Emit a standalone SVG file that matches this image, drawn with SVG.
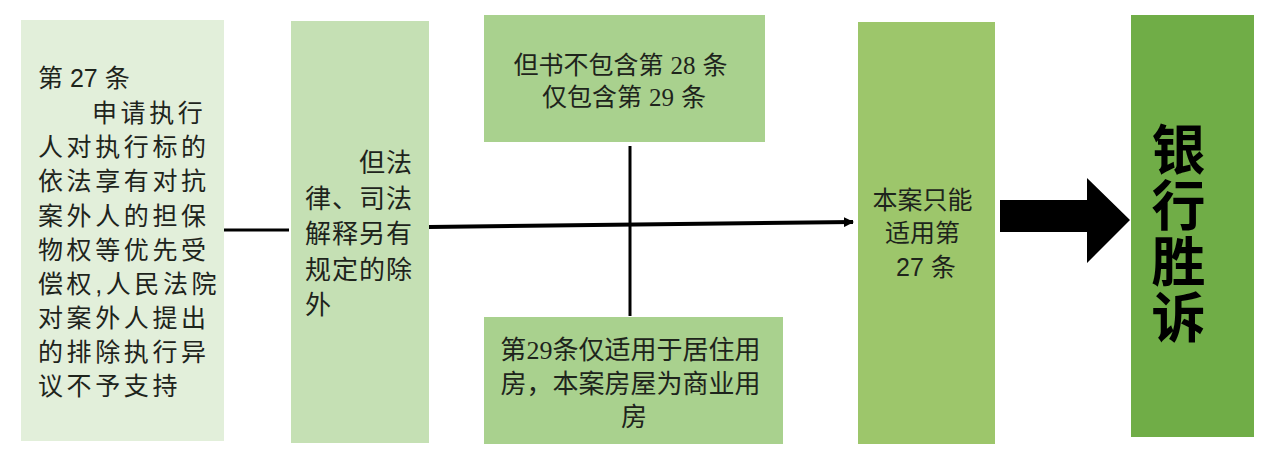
<svg xmlns="http://www.w3.org/2000/svg" width="1280" height="470" viewBox="0 0 1280 470">
<defs>
<style>
.t{font-family:"Liberation Sans","Noto Sans CJK SC",sans-serif;fill:#1e241c;font-size:25px}
.n{font-family:"Liberation Serif","Noto Sans CJK SC",serif}
.c{stroke:#000;stroke-width:3;fill:none}
</style>
<marker id="ah" markerWidth="10" markerHeight="10" refX="9" refY="5" orient="auto" markerUnits="userSpaceOnUse" viewBox="0 0 10 10">
<path d="M0,0 L10,5 L0,10 z" fill="#000"/>
</marker>
</defs>
<rect width="1280" height="470" fill="#fff"/>
<g id="n1">
<rect x="21" y="20" width="203" height="421" fill="#e2efda"/>
<text class="t" style="letter-spacing:3.6px">
<tspan x="38" y="87" style="letter-spacing:0">第 27 条</tspan>
<tspan x="92" y="122">申请执行</tspan>
<tspan x="38" y="156">人对执行标的</tspan>
<tspan x="38" y="190">依法享有对抗</tspan>
<tspan x="38" y="225">案外人的担保</tspan>
<tspan x="38" y="259">物权等优先受</tspan>
<tspan x="38" y="293">偿权,人民法院</tspan>
<tspan x="38" y="327">对案外人提出</tspan>
<tspan x="38" y="361">的排除执行异</tspan>
<tspan x="38" y="395">议不予支持</tspan>
</text>
</g>
<g id="n2">
<rect x="291" y="21" width="138" height="422" fill="#c5e0b4"/>
<text class="t" style="font-size:26px;letter-spacing:1px">
<tspan x="359" y="172">但法</tspan>
<tspan x="305" y="208">律、司法</tspan>
<tspan x="305" y="243">解释另有</tspan>
<tspan x="305" y="279">规定的除</tspan>
<tspan x="305" y="314">外</tspan>
</text>
</g>
<g id="n3">
<rect x="484" y="15" width="281" height="127" fill="#a9d18e"/>
<text class="t" text-anchor="middle">
<tspan x="624" y="74">但书不包含第 <tspan class="n">28</tspan> 条</tspan>
<tspan x="624" y="106">仅包含第 <tspan class="n">29</tspan> 条</tspan>
</text>
</g>
<g id="n4">
<rect x="484" y="317" width="299" height="127" fill="#a9d18e"/>
<text class="t" text-anchor="middle" style="font-size:26px">
<tspan x="634" y="359">第<tspan class="n">29</tspan>条仅适用于居住用</tspan>
<tspan x="634" y="393">房，本案房屋为商业用</tspan>
<tspan x="634" y="426">房</tspan>
</text>
</g>
<g id="n5">
<rect x="858" y="22" width="137" height="422" fill="#9dc66b"/>
<text class="t" text-anchor="middle">
<tspan x="926" y="209">本案只能</tspan>
<tspan x="926" y="242">适用第</tspan>
<tspan x="926" y="276">27 条</tspan>
</text>
</g>
<g id="n6">
<rect x="1131" y="15" width="123" height="422" fill="#70ad47"/>
<text class="t" x="1174" y="122" style="font-size:54px;font-weight:bold;fill:#000;writing-mode:vertical-rl;letter-spacing:2px">银行胜诉</text>
</g>
<g id="connectors">
<line class="c" x1="224" y1="230" x2="289" y2="230"/>
<line class="c" x1="429" y1="227" x2="853" y2="222" style="stroke-width:4" marker-end="url(#ah)"/>
<line class="c" x1="630" y1="146" x2="630" y2="316"/>
<path d="M1000,200 L1087,200 L1087,178 L1130,220 L1087,263 L1087,232 L1000,232 z" fill="#000"/>
</g>
</svg>
